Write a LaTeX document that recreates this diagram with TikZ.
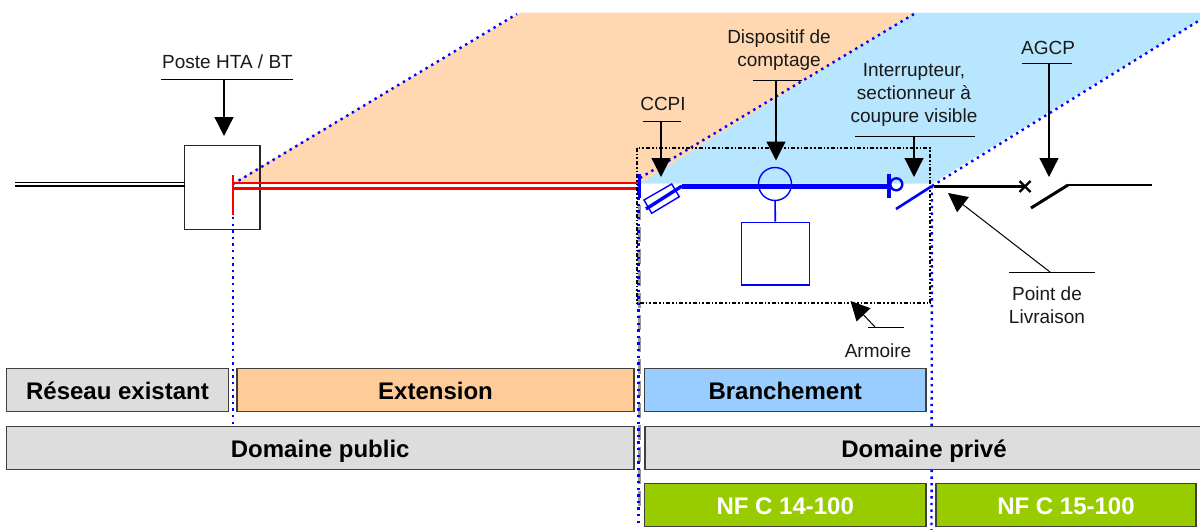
\documentclass[tikz,border=0pt]{standalone}
\usepackage{fontspec}
\setmainfont{Liberation Sans}
\usetikzlibrary{arrows.meta}
\definecolor{barGray}{HTML}{DDDDDD}
\definecolor{barPeach}{HTML}{FFCC99}
\definecolor{barBlue}{HTML}{99CCFF}
\definecolor{barGreen}{HTML}{99CC00}
\definecolor{zonePeach}{HTML}{FFD8B2}
\definecolor{zoneBlue}{HTML}{B8E6FF}
\definecolor{elecBlue}{HTML}{0000FF}
\definecolor{elecRed}{HTML}{FF0000}
\tikzset{
  x=1pt,y=-1pt,
  bar/.style={draw=black!75,line width=1.2pt,anchor=center,inner sep=0pt,outer sep=0pt,
    text height=18pt,text depth=0pt,
    font=\fontsize{24}{28}\selectfont\bfseries},
  lab/.style={align=center,inner sep=0pt,text=black!90,font=\fontsize{19}{23}\selectfont},
  leader/.style={line width=1pt,black},
  callout/.style={line width=1.3pt,black,-{Triangle[length=19pt,width=19pt]}},
  zoneedge/.style={elecBlue,line width=2.4pt,dash pattern=on 2.4pt off 4.2pt},
  grayedge/.style={black!40,line width=3.4pt,dash pattern=on 15pt off 7pt},
  armoire/.style={black,line width=1.6pt,dash pattern=on 4pt off 2pt on 1.6pt off 2pt on 1.6pt off 2pt},
  blueline/.style={elecBlue,line width=#1},
  blueline/.default=1.4pt,
  blackline/.style={black,line width=#1},
  blackline/.default=3pt,
}
\begin{document}
\begin{tikzpicture}
\useasboundingbox (0,0) rectangle (1200,530);
% zones
\fill[zonePeach] (231,184) -- (521,12.5) -- (915,12.5) -- (640,184) -- cycle;
\fill[zoneBlue] (640,183.5) -- (915,12.5) -- (1200,12.5) -- (1200,20) -- (932,183.5) -- cycle;
% named points
\coordinate (sA) at (233,184);
\coordinate (sAe) at (517,14);
\coordinate (sAb) at (233,471);
\coordinate (sB) at (640,178);
\coordinate (sBe) at (914,14);
\coordinate (sBt) at (638.5,184);
\coordinate (sBb) at (638.5,526);
\coordinate (sC) at (932,186);
\coordinate (sCe) at (1200,20);
\coordinate (sCb) at (931.5,530);
\coordinate (gT) at (639.5,205);
\coordinate (gB) at (639.5,506);
% boundaries
\draw[grayedge] (gT) -- (gB);
\draw[zoneedge] (sA) -- (sAe);
\draw[zoneedge] (sB) -- (sBe);
\draw[zoneedge] (sC) -- (sCe);
\draw[zoneedge] (sA) -- (sAb);
\draw[zoneedge] (sBt) -- (sBb);
\draw[zoneedge] (sC) -- (sCb);
% bars
\node[bar,fill=barGray,minimum width=222pt,minimum height=43pt] (existant) at (117.5,390) {Réseau existant};
\node[bar,fill=barPeach,minimum width=397pt,minimum height=43pt] (extension) at (435.5,390) {Extension};
\node[bar,fill=barBlue,minimum width=281.5pt,minimum height=43pt] (branchement) at (785.25,390) {Branchement};
\node[bar,fill=barGray,minimum width=627.5pt,minimum height=43pt] (public) at (320.25,448) {Domaine public};
\node[bar,fill=barGray,minimum width=558pt,minimum height=43pt] (prive) at (924,448) {Domaine privé};
\node[bar,fill=barGreen,text=white,minimum width=281.5pt,minimum height=43pt] (nf14) at (785.25,505) {NF C 14-100};
\node[bar,fill=barGreen,text=white,minimum width=260pt,minimum height=43pt] (nf15) at (1066,505) {NF C 15-100};
% poste
\node[draw=black!85,line width=1.2pt,minimum width=75.5pt,minimum height=84pt,inner sep=0pt,fill=none] (poste) at (222.25,187.5) {};
\draw[blackline=1.7pt] (15,182.6) -- (185,182.6);
\draw[blackline=1.7pt] (15,186) -- (185,186);
% red line
\draw[elecRed,line width=2.4pt] (233,182.7) -- (639,182.7);
\draw[elecRed,line width=3.4pt] (233,188.3) -- (639,188.3);
\draw[elecRed,line width=2.6pt] (232.8,175) -- (232.8,215);
% armoire
\node[draw=none,minimum width=293pt,minimum height=155pt,inner sep=0pt] (arm) at (783.5,225.5) {};
\draw[armoire] (arm.north west) rectangle (arm.south east);
% branchement equipment
\coordinate (busL) at (682,186);
\coordinate (busR) at (889,186);
\coordinate (fuseE) at (646,209);
\draw[blueline=3.4pt] (639.5,174) -- (639.5,198);
\draw[blueline=5pt] (busL) -- (busR);
\draw[blueline=3.4pt] (busL) -- (fuseE);
\draw[blueline=1.4pt] (644,200) -- (671.7,184) -- (679.3,196.7) -- (651.7,213.3) -- cycle;
\node[circle,draw=elecBlue,line width=1.4pt,minimum size=33pt,inner sep=0pt] (compteur) at (775,184) {};
\node[draw=elecBlue,line width=1.6pt,minimum width=68pt,minimum height=62.5pt,inner sep=0pt] (coffret) at (775.5,253.75) {};
\draw[blueline=1.6pt] (compteur) -- (coffret);
\draw[blueline=3.4pt] (889,174) -- (889,198);
\node[circle,draw=elecBlue,line width=2.4pt,minimum size=12pt,inner sep=0pt] (sect) at (896.3,184.3) {};
\draw[blueline=2.6pt] (896,209) -- (sC);
% aval
\coordinate (pl) at (934,186.5);
\coordinate (xm) at (1025,186.5);
\coordinate (swA) at (1031,208);
\coordinate (swB) at (1068,185);
\coordinate (swC) at (1152,185);
\draw[blackline=2.6pt] (pl) -- (xm);
\draw[blackline=2.2pt] (1019.5,181) -- (1030.5,192) (1019.5,192) -- (1030.5,181);
\draw[blackline=3pt] (swA) -- (swB);
\draw[blackline=2.6pt] (swB) -- (swC);
% labels
\node[lab] (tPoste) at (227.5,62) {Poste HTA / BT};
\draw[leader] (161,79) -- (293,79);
\coordinate (pa) at (224,79); \coordinate (pb) at (224,136);
\draw[callout] (pa) -- (pb);
\node[lab] (tCCPI) at (663,104) {CCPI};
\draw[leader] (643,121) -- (681,121);
\coordinate (ca) at (661,121); \coordinate (cb) at (661,177);
\draw[callout] (ca) -- (cb);
\node[lab] (tDisp) at (779,50.5) {Dispositif de\\comptage};
\draw[leader] (753,80) -- (802,80);
\coordinate (da) at (776,80); \coordinate (db) at (776,160.5);
\draw[callout] (da) -- (db);
\node[lab] (tInt) at (914,94.5) {Interrupteur,\\sectionneur à\\coupure visible};
\draw[leader] (855,136.5) -- (975,136.5);
\coordinate (ia) at (914,136.5); \coordinate (ib) at (914,177);
\draw[callout] (ia) -- (ib);
\node[lab] (tAGCP) at (1048,48) {AGCP};
\draw[leader] (1022,63) -- (1072,63);
\coordinate (aa) at (1049,63); \coordinate (ab) at (1049,177);
\draw[callout] (aa) -- (ab);
\node[lab] (tPoint) at (1047,305) {Point de\\Livraison};
\draw[leader] (1009,272) -- (1095,272);
\coordinate (la) at (1050,272); \coordinate (lb) at (948,193);
\draw[callout,line width=1pt] (la) -- (lb);
\node[lab] (tArm) at (878,351) {Armoire};
\draw[leader] (868,327) -- (904,327);
\coordinate (ra) at (875,327); \coordinate (rb) at (850.5,301);
\draw[callout,line width=1pt] (ra) -- (rb);
\end{tikzpicture}
\end{document}
